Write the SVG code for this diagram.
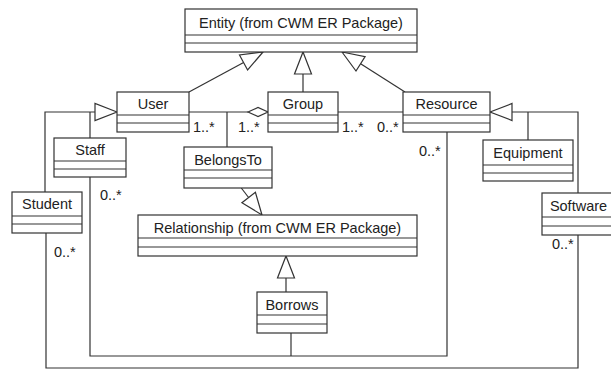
<svg xmlns="http://www.w3.org/2000/svg" width="611" height="369" viewBox="0 0 611 369">
  <style>
    .box { fill: #fff; stroke: #333; stroke-width: 1.2; }
    .sep { stroke: #333; stroke-width: 1.2; }
    .name { font-family: "Liberation Sans", Arial, sans-serif; font-size: 14.5px; fill: #222; text-anchor: middle; }
    .mult { font-family: "Liberation Sans", Arial, sans-serif; font-size: 14.5px; fill: #222; }
    .edge { fill: none; stroke: #333; stroke-width: 1.2; }
    .head { fill: #fff; stroke: #333; stroke-width: 1.2; stroke-linejoin: miter; }
  </style>
  <rect width="611" height="369" fill="#fff"/>

  <!-- connectors: generalizations, associations, aggregation -->
  <g id="connectors">
    <!-- User, Group, Resource generalize Entity -->
    <line class="edge" x1="189" y1="92" x2="243.6" y2="62.5"/>
    <polygon class="head" points="263,52 247.6,70 239.5,55"/>
    <line class="edge" x1="303" y1="92" x2="303" y2="74"/>
    <polygon class="head" points="303,52 311.5,74 294.5,74"/>
    <line class="edge" x1="405" y1="92" x2="360.6" y2="63.8"/>
    <polygon class="head" points="342,52 365.1,56.6 356,71"/>

    <!-- Student, Staff generalize User -->
    <polyline class="edge" points="45,192 45,112 95,112"/>
    <line class="edge" x1="90" y1="138" x2="90" y2="112"/>
    <polygon class="head" points="117,112 95,103.5 95,120.5"/>

    <!-- Equipment, Software generalize Resource -->
    <polyline class="edge" points="512,112 578,112 578,193"/>
    <line class="edge" x1="528" y1="140" x2="528" y2="112"/>
    <polygon class="head" points="490,112 512,103.5 512,120.5"/>

    <!-- User - Group aggregation -->
    <line class="edge" x1="189" y1="112" x2="248" y2="112"/>
    <polygon class="head" points="248,112 258,107.5 268,112 258,116.5"/>
    <!-- BelongsTo association class link -->
    <line class="edge" x1="227" y1="112" x2="227" y2="147"/>

    <!-- Group - Resource -->
    <line class="edge" x1="338" y1="112" x2="403" y2="112"/>

    <!-- BelongsTo, Borrows generalize Relationship -->
    <line class="edge" x1="241.3" y1="188" x2="248.6" y2="197.5"/>
    <polygon class="head" points="262,215 255.4,192.3 241.9,202.7"/>
    <line class="edge" x1="286" y1="278" x2="286" y2="292"/>
    <polygon class="head" points="286,256 294.5,278 277.5,278"/>

    <!-- Staff - Resource, with Borrows attached -->
    <polyline class="edge" points="90,177 90,356 447,356 447,132"/>
    <line class="edge" x1="291" y1="333" x2="291" y2="356"/>

    <!-- Student - Software -->
    <polyline class="edge" points="46,233 46,368 578,368 578,235"/>
  </g>

  <!-- classes -->
  <g id="entity">
    <rect class="box" x="185" y="9" width="232" height="43"/>
    <line class="sep" x1="185" y1="35" x2="417" y2="35"/>
    <line class="sep" x1="185" y1="43" x2="417" y2="43"/>
    <text class="name" x="301" y="28">Entity (from CWM ER Package)</text>
  </g>
  <g id="user">
    <rect class="box" x="117" y="92" width="72" height="40"/>
    <line class="sep" x1="117" y1="115" x2="189" y2="115"/>
    <line class="sep" x1="117" y1="123" x2="189" y2="123"/>
    <text class="name" x="153" y="109">User</text>
  </g>
  <g id="group">
    <rect class="box" x="268" y="92" width="70" height="40"/>
    <line class="sep" x1="268" y1="115" x2="338" y2="115"/>
    <line class="sep" x1="268" y1="123" x2="338" y2="123"/>
    <text class="name" x="303" y="109">Group</text>
  </g>
  <g id="resource">
    <rect class="box" x="403" y="92" width="87" height="40"/>
    <line class="sep" x1="403" y1="115" x2="490" y2="115"/>
    <line class="sep" x1="403" y1="123" x2="490" y2="123"/>
    <text class="name" x="446.5" y="109">Resource</text>
  </g>
  <g id="staff">
    <rect class="box" x="54" y="138" width="72" height="39"/>
    <line class="sep" x1="54" y1="161" x2="126" y2="161"/>
    <line class="sep" x1="54" y1="169" x2="126" y2="169"/>
    <text class="name" x="90" y="155">Staff</text>
  </g>
  <g id="student">
    <rect class="box" x="12" y="192" width="70" height="41"/>
    <line class="sep" x1="12" y1="216" x2="82" y2="216"/>
    <line class="sep" x1="12" y1="224" x2="82" y2="224"/>
    <text class="name" x="47" y="209">Student</text>
  </g>
  <g id="equipment">
    <rect class="box" x="483" y="140" width="90" height="41"/>
    <line class="sep" x1="483" y1="165" x2="573" y2="165"/>
    <line class="sep" x1="483" y1="173" x2="573" y2="173"/>
    <text class="name" x="528" y="158">Equipment</text>
  </g>
  <g id="software">
    <rect class="box" x="542" y="193" width="74" height="42"/>
    <line class="sep" x1="542" y1="217" x2="616" y2="217"/>
    <line class="sep" x1="542" y1="226" x2="616" y2="226"/>
    <text class="name" x="578.5" y="211">Software</text>
  </g>
  <g id="belongsto">
    <rect class="box" x="184" y="147" width="88" height="41"/>
    <line class="sep" x1="184" y1="170" x2="272" y2="170"/>
    <line class="sep" x1="184" y1="178" x2="272" y2="178"/>
    <text class="name" x="228" y="165">BelongsTo</text>
  </g>
  <g id="relationship">
    <rect class="box" x="138" y="215" width="279" height="41"/>
    <line class="sep" x1="138" y1="238" x2="417" y2="238"/>
    <line class="sep" x1="138" y1="247" x2="417" y2="247"/>
    <text class="name" x="277.5" y="233">Relationship (from CWM ER Package)</text>
  </g>
  <g id="borrows">
    <rect class="box" x="257" y="292" width="70" height="41"/>
    <line class="sep" x1="257" y1="315" x2="327" y2="315"/>
    <line class="sep" x1="257" y1="324" x2="327" y2="324"/>
    <text class="name" x="292" y="310">Borrows</text>
  </g>

  <!-- multiplicities -->
  <g id="multiplicities">
    <text class="mult" x="193" y="132">1..*</text>
    <text class="mult" x="238" y="132">1..*</text>
    <text class="mult" x="342" y="132">1..*</text>
    <text class="mult" x="377" y="132">0..*</text>
    <text class="mult" x="419" y="156">0..*</text>
    <text class="mult" x="100" y="200">0..*</text>
    <text class="mult" x="54" y="257">0..*</text>
    <text class="mult" x="552" y="249">0..*</text>
  </g>
</svg>
